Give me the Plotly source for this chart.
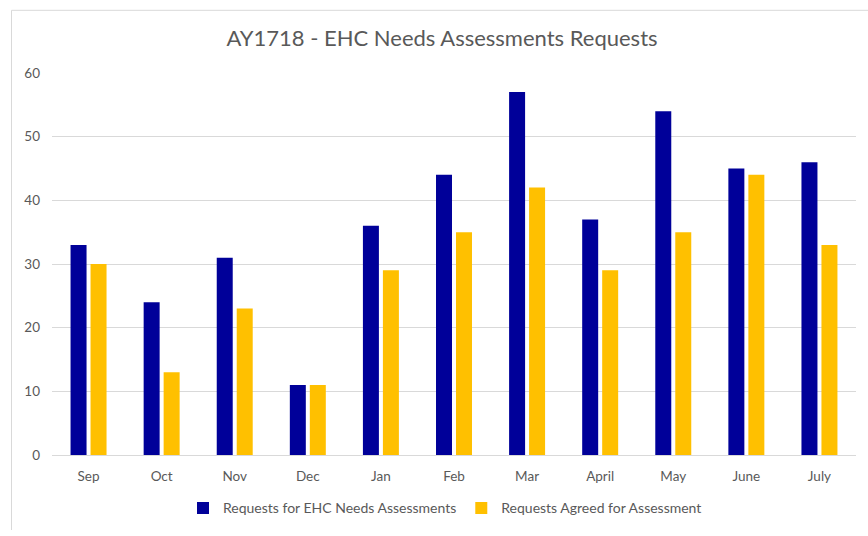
import plotly.graph_objects as go

months = ["Sep", "Oct", "Nov", "Dec", "Jan", "Feb", "Mar", "April", "May", "June", "July"]
requests = [33, 24, 31, 11, 36, 44, 57, 37, 54, 45, 46]
agreed = [30, 13, 23, 11, 29, 35, 42, 29, 35, 44, 33]
y_ticks = [0, 10, 20, 30, 40, 50, 60]

W, H = 868, 536
L, R, T, B = 52, 12, 73, 76
pw, ph = W - L - R, H - T - B

fig = go.Figure()
fig.add_trace(go.Bar(x=months, y=requests, name="Requests for EHC Needs Assessments",
                     marker=dict(color="#000099", line=dict(width=0))))
fig.add_trace(go.Bar(x=months, y=agreed, name="Requests Agreed for Assessment",
                     marker=dict(color="#FFC000", line=dict(width=0))))

font = "Lato, 'Open Sans', sans-serif"
fig.update_layout(
    width=W, height=H,
    margin=dict(l=L, r=R, t=T, b=B),
    paper_bgcolor="white", plot_bgcolor="white",
    barmode="group", bargap=0.453, bargroupgap=0.2,
    title=dict(text="AY1718 - EHC Needs Assessments Requests", x=(442 - L) / pw, xanchor="center",
               xref="paper", y=1 - 38 / H, yanchor="middle",
               font=dict(family=font, size=22, color="#595959")),
    font=dict(family=font, size=13, color="#595959"),
    xaxis=dict(showgrid=False, showline=True, linecolor="#d9d9d9", linewidth=1,
               ticks="", ticklabelstandoff=9, tickfont=dict(size=13.5, color="#595959")),
    yaxis=dict(range=[0, 60], tickvals=y_ticks, showgrid=True, gridcolor="#d9d9d9",
               gridwidth=1, zeroline=False, ticks="", showline=False, ticklabelstandoff=11,
               tickfont=dict(size=13.5, color="#595959")),
    legend=dict(orientation="h", x=(445 - L) / pw, xanchor="center",
                y=-(514 - (T + ph)) / ph, yanchor="middle",
                font=dict(size=14, color="#595959"), itemwidth=30, traceorder="normal"),
    showlegend=True,
)

# chart border (top and left edges; right/bottom lie outside the visible area)
bx0 = (11.5 - L) / pw
bx1 = (W - L) / pw
by_top = (T + ph - 9.5) / ph
by_bot = -(H - T - ph) / ph
fig.add_shape(type="line", xref="paper", yref="paper", x0=bx0, x1=bx1, y0=by_top, y1=by_top,
              line=dict(color="#d9d9d9", width=1), layer="below")
fig.add_shape(type="line", xref="paper", yref="paper", x0=bx0, x1=bx0, y0=by_bot, y1=by_top,
              line=dict(color="#d9d9d9", width=1), layer="below")

fig.write_html("out.html", config={"displayModeBar": False},
               post_script="document.body.style.margin='0';document.body.style.overflow='hidden';")
